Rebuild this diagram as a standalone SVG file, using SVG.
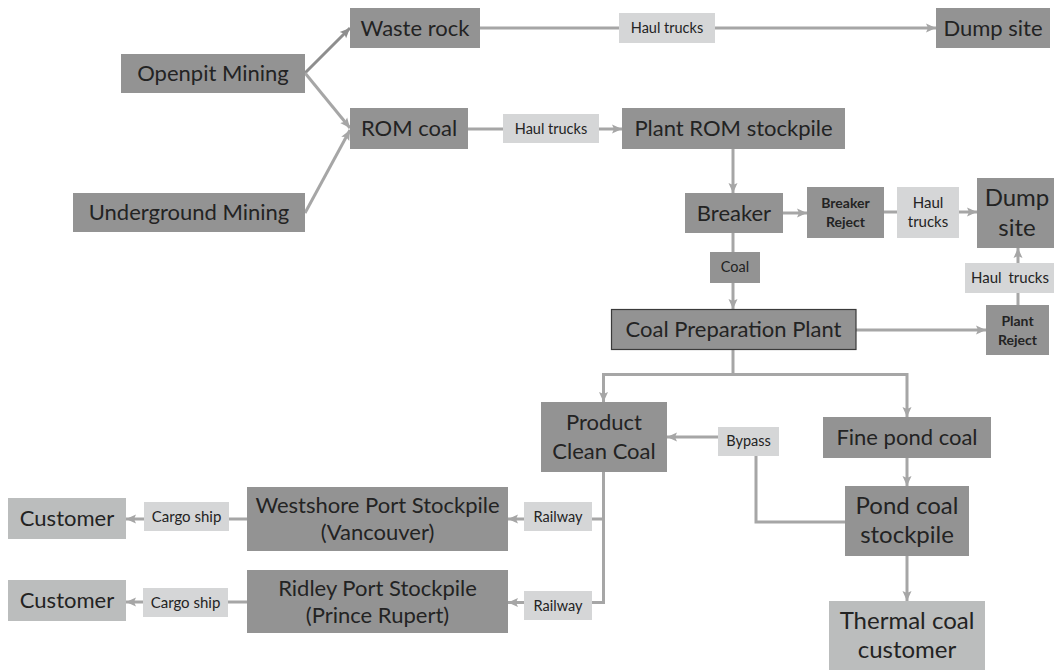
<svg xmlns="http://www.w3.org/2000/svg" width="1054" height="670" viewBox="0 0 1054 670">
  <style>
    .d { fill: #939393; }
    .l { fill: #d5d6d7; }
    .c { fill: #bbbdbd; }
    .frame { stroke: #3a3a3a; stroke-width: 1.2; }
    text { font-family: Lato, "Liberation Sans", sans-serif; fill: #232323; text-anchor: middle; }
    .t { font-size: 22px; }
    .tl { font-size: 24px; }
    .s { font-size: 14.5px; }
    .sm { font-size: 15px; }
    .b { font-size: 14px; font-weight: bold; }
    .ln { fill: none; stroke: #a6a6a6; stroke-width: 3; }
    .dk { stroke: #8e8e8e; }
  </style>
  <defs>
    <marker id="ah" markerUnits="userSpaceOnUse" markerWidth="10" markerHeight="10" refX="10" refY="5" orient="auto">
      <path d="M0,0.5 L10,5 L0,9.5 L2,5 z" fill="#a6a6a6"/>
    </marker>
    <marker id="ahd" markerUnits="userSpaceOnUse" markerWidth="10" markerHeight="10" refX="10" refY="5" orient="auto">
      <path d="M0,0.5 L10,5 L0,9.5 L2,5 z" fill="#8e8e8e"/>
    </marker>
  </defs>

  <!-- connectors, drawn first so labels sit on top of the lines -->
  <g id="connectors">
    <path class="ln dk" d="M305,73 L350,28" marker-end="url(#ahd)"/>
    <path class="ln" d="M305,73 L350,128" marker-end="url(#ah)"/>
    <path class="ln" d="M305,213 L350,130" marker-end="url(#ah)"/>
    <path class="ln" d="M480,28 L936,28" marker-end="url(#ah)"/>
    <path class="ln" d="M468,129 L622,129" marker-end="url(#ah)"/>
    <path class="ln" d="M733,149 L733,193" marker-end="url(#ah)"/>
    <path class="ln" d="M783,213 L807,213" marker-end="url(#ah)"/>
    <path class="ln" d="M884,212 L977,212" marker-end="url(#ah)"/>
    <path class="ln" d="M733,233 L733,309" marker-end="url(#ah)"/>
    <path class="ln" d="M856,330 L986,330" marker-end="url(#ah)"/>
    <path class="ln" d="M1018,305 L1018,248" marker-end="url(#ah)"/>
    <path class="ln" d="M733,350 L733,374.5"/>
    <path class="ln" d="M733,374.5 L603.5,374.5 L603.5,402" marker-end="url(#ah)"/>
    <path class="ln" d="M733,374.5 L907,374.5 L907,417" marker-end="url(#ah)"/>
    <path class="ln" d="M907,458 L907,486" marker-end="url(#ah)"/>
    <path class="ln" d="M845,522 L756,522 L756,456"/>
    <path class="ln" d="M718,437 L667,437" marker-end="url(#ah)"/>
    <path class="ln" d="M603.5,472 L603.5,602.5 L508,602.5" marker-end="url(#ah)"/>
    <path class="ln" d="M603.5,519 L508,519" marker-end="url(#ah)"/>
    <path class="ln" d="M247,519 L126,519" marker-end="url(#ah)"/>
    <path class="ln" d="M247,602 L126,602" marker-end="url(#ah)"/>
    <path class="ln" d="M907,556 L907,601" marker-end="url(#ah)"/>
  </g>

  <g id="openpit-mining">
    <rect class="d" x="121" y="54" width="184" height="39"/>
    <text class="t" x="213" y="81">Openpit Mining</text>
  </g>
  <g id="underground-mining">
    <rect class="d" x="73" y="193" width="232" height="39"/>
    <text class="t" x="189" y="220">Underground Mining</text>
  </g>
  <g id="waste-rock">
    <rect class="d" x="350" y="8" width="130" height="40"/>
    <text class="t" x="415" y="36">Waste rock</text>
  </g>
  <g id="rom-coal">
    <rect class="d" x="350" y="108" width="118" height="41"/>
    <text class="t" x="409" y="136">ROM coal</text>
  </g>
  <g id="haul-trucks-1">
    <rect class="l" x="619" y="13" width="96" height="30"/>
    <text class="s" x="667" y="33">Haul trucks</text>
  </g>
  <g id="dump-site-1">
    <rect class="d" x="936" y="8" width="114" height="40"/>
    <text class="t" x="993" y="36">Dump site</text>
  </g>
  <g id="haul-trucks-2">
    <rect class="l" x="503" y="114" width="96" height="29"/>
    <text class="s" x="551" y="134">Haul trucks</text>
  </g>
  <g id="plant-rom-stockpile">
    <rect class="d" x="622" y="108" width="223" height="41"/>
    <text class="t" x="733.5" y="136">Plant ROM stockpile</text>
  </g>
  <g id="breaker">
    <rect class="d" x="685" y="193" width="98" height="40"/>
    <text class="t" x="734" y="221">Breaker</text>
  </g>
  <g id="breaker-reject">
    <rect class="d" x="807" y="187" width="77" height="51"/>
    <text class="b" x="845.5" y="208">Breaker</text>
    <text class="b" x="845.5" y="227">Reject</text>
  </g>
  <g id="haul-trucks-3">
    <rect class="l" x="897" y="187" width="62" height="51"/>
    <text class="sm" x="928" y="208">Haul</text>
    <text class="sm" x="928" y="227">trucks</text>
  </g>
  <g id="dump-site-2">
    <rect class="d" x="977" y="178" width="80" height="70"/>
    <text class="tl" x="1017" y="206">Dump</text>
    <text class="tl" x="1017" y="236">site</text>
  </g>
  <g id="coal-label">
    <rect class="d" x="710" y="252" width="50" height="31"/>
    <text class="s" x="735" y="272">Coal</text>
  </g>
  <g id="haul-trucks-4">
    <rect class="l" x="965" y="263" width="89" height="30"/>
    <text class="sm" x="1010" y="283" word-spacing="3">Haul trucks</text>
  </g>
  <g id="coal-preparation-plant">
    <rect class="d frame" x="611.5" y="309.5" width="244.5" height="40"/>
    <text class="t" x="733.5" y="337">Coal Preparation Plant</text>
  </g>
  <g id="plant-reject">
    <rect class="d" x="986" y="305" width="63" height="50"/>
    <text class="b" x="1017.5" y="326">Plant</text>
    <text class="b" x="1017.5" y="345">Reject</text>
  </g>
  <g id="product-clean-coal">
    <rect class="d" x="541" y="402" width="126" height="70"/>
    <text class="t" x="604" y="430">Product</text>
    <text class="t" x="604" y="459">Clean Coal</text>
  </g>
  <g id="bypass">
    <rect class="l" x="718" y="427" width="61" height="29"/>
    <text class="s" x="748.5" y="446">Bypass</text>
  </g>
  <g id="fine-pond-coal">
    <rect class="d" x="823" y="417" width="168" height="41"/>
    <text class="t" x="907" y="445">Fine pond coal</text>
  </g>
  <g id="pond-coal-stockpile">
    <rect class="d" x="845" y="486" width="124" height="70"/>
    <text class="tl" x="907" y="514">Pond coal</text>
    <text class="tl" x="907" y="543">stockpile</text>
  </g>
  <g id="thermal-coal-customer">
    <rect class="c" x="829" y="601" width="156" height="69"/>
    <text class="tl" x="907" y="629">Thermal coal</text>
    <text class="tl" x="907" y="658">customer</text>
  </g>
  <g id="railway-1">
    <rect class="l" x="524" y="502" width="68" height="29"/>
    <text class="s" x="558" y="522">Railway</text>
  </g>
  <g id="railway-2">
    <rect class="l" x="524" y="591" width="68" height="29"/>
    <text class="s" x="558" y="611">Railway</text>
  </g>
  <g id="westshore-port-stockpile">
    <rect class="d" x="247" y="487" width="261" height="64"/>
    <text class="t" x="377.5" y="513">Westshore Port Stockpile</text>
    <text class="t" x="377.5" y="540">(Vancouver)</text>
  </g>
  <g id="ridley-port-stockpile">
    <rect class="d" x="247" y="570" width="261" height="63"/>
    <text class="t" x="377.5" y="596">Ridley Port Stockpile</text>
    <text class="t" x="377.5" y="623">(Prince Rupert)</text>
  </g>
  <g id="cargo-ship-1">
    <rect class="l" x="144" y="502" width="85" height="29"/>
    <text class="sm" x="186.5" y="522">Cargo ship</text>
  </g>
  <g id="cargo-ship-2">
    <rect class="l" x="143" y="588" width="85" height="29"/>
    <text class="sm" x="185.5" y="608">Cargo ship</text>
  </g>
  <g id="customer-1">
    <rect class="c" x="8" y="498" width="118" height="41"/>
    <text class="t" x="67" y="526">Customer</text>
  </g>
  <g id="customer-2">
    <rect class="c" x="8" y="580" width="118" height="41"/>
    <text class="t" x="67" y="608">Customer</text>
  </g>
</svg>
